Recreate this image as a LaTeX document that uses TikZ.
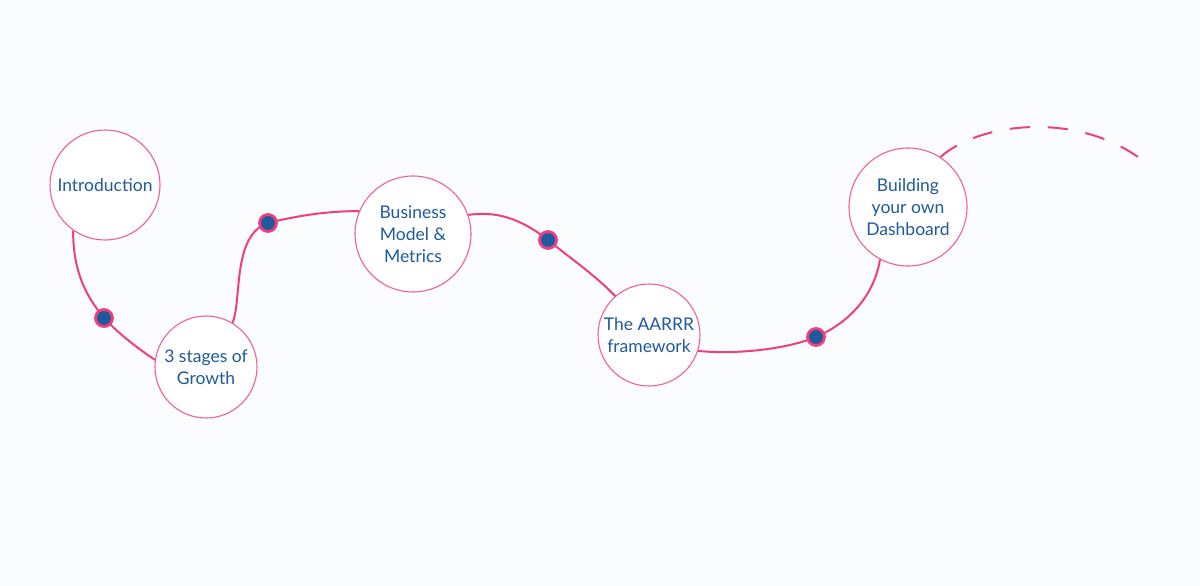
\documentclass[tikz,border=0pt]{standalone}
\usepackage{fontspec}
\setmainfont{Lato}
\definecolor{bgc}{HTML}{FBFCFE}
\definecolor{pinkc}{HTML}{EF3F7C}
\definecolor{pinkl}{HTML}{F0609A}
\definecolor{bluec}{HTML}{1F5A9E}
\tikzset{
  topic/.style={circle, draw=pinkl, line width=1.1pt, fill=white, inner sep=0pt,
    minimum size=#1, align=center, text=bluec, font=\fontsize{17.5}{22}\selectfont},
  link/.style={draw=pinkc, line width=2pt},
  waypoint/.style={circle, draw=pinkc, line width=2.8pt, fill=bluec, inner sep=0pt, minimum size=17pt},
  tail/.style={draw=pinkc, line width=2pt, dash pattern=on 20pt off 18pt}
}
\begin{document}
\begin{tikzpicture}[x=1pt,y=-1pt]
\fill[bgc] (0,0) rectangle (1200,586);
\useasboundingbox (0,0) rectangle (1200,586);

\node[topic=110pt] (intro) at (105,185) {Introduction};
\node[topic=102pt] (stages) at (206,367) {3 stages of\\Growth};
\node[topic=116pt] (biz) at (413,234) {Business\\Model \&\\Metrics};
\node[topic=102pt] (aarrr) at (649,335) {The AARRR\\framework};
\node[topic=118pt] (bld) at (908,207) {Building\\your own\\Dashboard};

\coordinate (d1) at (104,318);
\coordinate (d2) at (268,223);
\coordinate (d3) at (548,240);
\coordinate (d4) at (816,337);
\coordinate (tailend) at (1146,163);

\draw[link] (intro.235) .. controls (73,270) and (85,295) .. (d1)
  .. controls (120,335) and (140,350) .. (stages.172);
\draw[link] (stages.59) .. controls (242,300) and (232,235) .. (d2)
  .. controls (300,215) and (330,211) .. (biz.157);
\draw[link] (biz.19) .. controls (500,210) and (525,222) .. (d3)
  .. controls (570,258) and (595,275) .. (aarrr.131);
\draw[link] (aarrr.-18) .. controls (740,355) and (790,348) .. (d4)
  .. controls (855,320) and (875,290) .. (bld.242);
\draw[tail] (bld.57) .. controls (980,122) and (1080,110) .. (tailend);

\node[waypoint] (w1) at (d1) {};
\node[waypoint] (w2) at (d2) {};
\node[waypoint] (w3) at (d3) {};
\node[waypoint] (w4) at (d4) {};
\end{tikzpicture}
\end{document}
